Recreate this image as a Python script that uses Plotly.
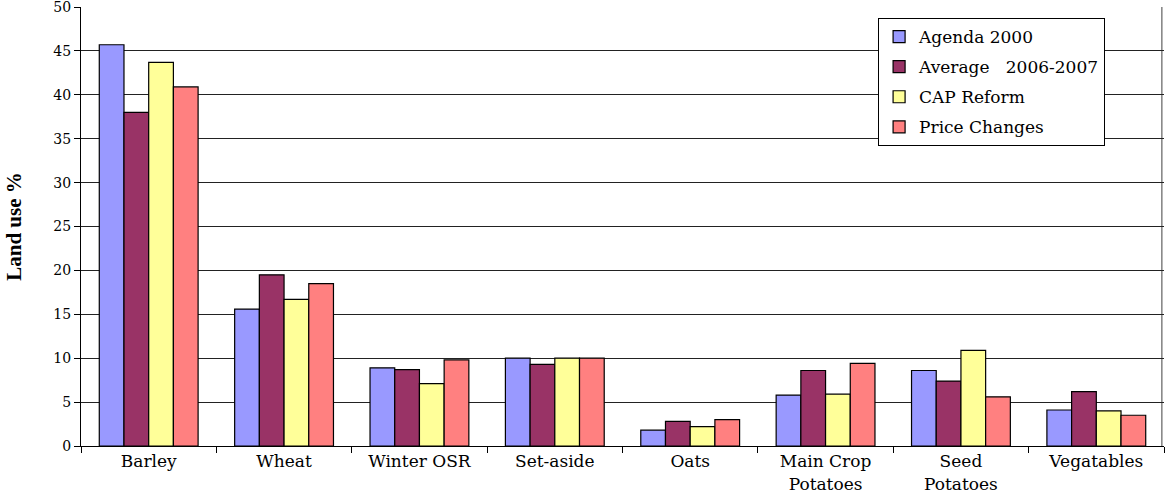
import plotly.graph_objects as go

categories = ["Barley", "Wheat", "Winter OSR", "Set-aside", "Oats",
              "Main Crop<br>Potatoes", "Seed<br>Potatoes", "Vegatables"]
agenda_2000 = [45.7, 15.6, 8.9, 10.0, 1.8, 5.8, 8.6, 4.1]
average_2006_2007 = [38.0, 19.5, 8.7, 9.3, 2.8, 8.6, 7.4, 6.2]
cap_reform = [43.7, 16.7, 7.1, 10.0, 2.2, 5.9, 10.9, 4.0]
price_changes = [40.9, 18.5, 9.8, 10.0, 3.0, 9.4, 5.6, 3.5]
y_ticks = [0, 5, 10, 15, 20, 25, 30, 35, 40, 45, 50]

series = [
    ("Agenda 2000", agenda_2000, "#9999FF"),
    ("Average\u00a0\u00a0\u00a02006-2007", average_2006_2007, "#993366"),
    ("CAP Reform", cap_reform, "#FFFF99"),
    ("Price Changes", price_changes, "#FF8080"),
]

serif = "DejaVu Serif, Liberation Serif, serif"

fig = go.Figure()
for i, (name, vals, color) in enumerate(series):
    fig.add_trace(go.Bar(
        name=name, x=categories, y=vals,
        marker=dict(color=color, line=dict(color="black", width=1.2)),
        legendgroup=f"g{i}",
    ))

# thin grey frame line on the right edge of the plot area
fig.add_shape(type="line", xref="paper", yref="paper", x0=0.998, x1=0.998,
              y0=0, y1=1, line=dict(color="#808080", width=1.5), layer="below")

fig.update_layout(
    width=1168, height=500,
    margin=dict(l=81, r=4, t=7, b=54),
    paper_bgcolor="white", plot_bgcolor="white",
    barmode="group", bargap=0.27, bargroupgap=0,
    font=dict(family=serif, size=15, color="black"),
    legend=dict(
        x=0.736, y=0.975, xanchor="left", yanchor="top",
        bordercolor="black", borderwidth=1, bgcolor="white",
        font=dict(family=serif, size=17),
        tracegroupgap=5, itemwidth=30,
    ),
    showlegend=True,
)
fig.update_xaxes(
    type="category", tickson="boundaries", ticks="outside", ticklen=6,
    tickcolor="black", showline=True, linecolor="black", linewidth=1,
    showgrid=False, tickfont=dict(family=serif, size=17), automargin=False,
)
fig.update_yaxes(
    range=[0, 50], tickvals=y_ticks, ticklabeloverflow="allow",
    automargin=False,
    ticks="outside", ticklen=6, tickcolor="black",
    showline=True, linecolor="black", linewidth=1,
    showgrid=True, gridcolor="#222222", gridwidth=1,
    zeroline=False, tickfont=dict(family=serif, size=14),
    title=dict(text="<b>Land use %</b>",
               font=dict(family="Liberation Serif, serif", size=21),
               standoff=26),
)

fig.write_html("out.html")
